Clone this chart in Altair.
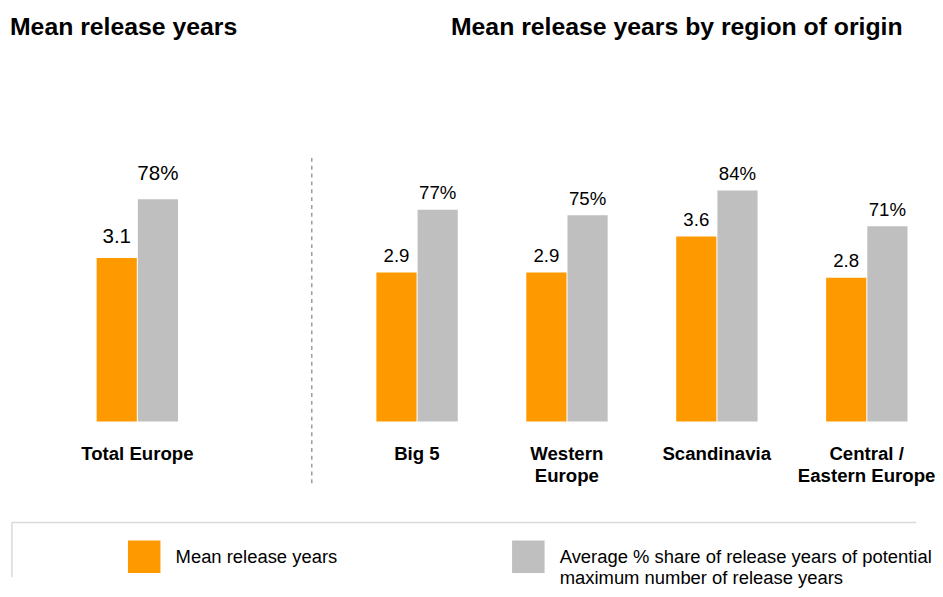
import altair as alt
import pandas as pd

FONT = "Liberation Sans"

# ---- data ----
series = [
    "Mean release years",
    "Average % share of release years of potential\nmaximum number of release years",
]
colors = ["#FF9900", "#BFBFBF"]

left_cats = ["Total Europe"]
left_mean = [3.1]
left_share = [78]

right_cats = ["Big 5", "Western\nEurope", "Scandinavia", "Central /\nEastern Europe"]
right_mean = [2.9, 2.9, 3.6, 2.8]
right_share = [77, 75, 84, 71]


def panel(cats, means, shares, width, pin, pout, align, mean_max, share_max,
          fsize, dy_mean, dy_share, title, title_dx, sep=False):
    dfm = pd.DataFrame({"cat": cats, "series": series[0], "value": means,
                        "label": [f"{v:.1f}" for v in means]})
    dfs = pd.DataFrame({"cat": cats, "series": series[1], "value": shares,
                        "label": [f"{v}%" for v in shares]})
    xaxis = alt.Axis(title=None, labelAngle=0, ticks=False, domain=False, grid=False,
                     labelFont=FONT, labelFontSize=19, labelFontWeight="bold",
                     labelColor="black", labelPadding=24, labelLimit=400,
                     labelExpr="split(datum.label, '\\n')", labelLineHeight=22)
    x = alt.X("cat:N", sort=cats,
              scale=alt.Scale(domain=cats, paddingInner=pin, paddingOuter=pout, align=align),
              axis=xaxis)
    xo = alt.XOffset("series:N", scale=alt.Scale(domain=series, paddingInner=0.025))
    color = alt.Color("series:N", scale=alt.Scale(domain=series, range=colors), legend=None)
    ym = alt.Y("value:Q", scale=alt.Scale(domain=[0, mean_max], nice=False, zero=True), axis=None)
    ys = alt.Y("value:Q", scale=alt.Scale(domain=[0, share_max], nice=False, zero=True), axis=None)

    bar_m = alt.Chart(dfm).mark_bar().encode(x=x, xOffset=xo, y=ym, color=color)
    txt_m = alt.Chart(dfm).mark_text(font=FONT, fontSize=fsize, baseline="alphabetic",
                                     dy=dy_mean, color="black").encode(
        x=x, xOffset=xo, y=ym, text="label:N")
    bar_s = alt.Chart(dfs).mark_bar().encode(x=x, xOffset=xo, y=ys, color=color)
    txt_s = alt.Chart(dfs).mark_text(font=FONT, fontSize=fsize, baseline="alphabetic",
                                     dy=dy_share, color="black").encode(
        x=x, xOffset=xo, y=ys, text="label:N")
    layers = [alt.layer(bar_m, txt_m), alt.layer(bar_s, txt_s)]
    if sep:
        rule = alt.Chart(pd.DataFrame({"a": [0]})).mark_rule(
            color="#9a9a9a", strokeWidth=1.5, strokeDash=[4, 4]).encode(
            x=alt.value(width + 10), y=alt.value(11), y2=alt.value(347))
        layers.append(rule)
    return alt.layer(*layers).resolve_scale(y="independent").properties(
        width=width, height=280,
        title=alt.Title(title, anchor="start", font=FONT, fontSize=25.3, fontWeight="bold",
                        color="black", offset=109, dx=title_dx),
    )


left = panel(left_cats, left_mean, left_share, 300, 0.235, 1.0, 0.417, 5.2, 96.3,
             21, -15, -20, "Mean release years", 2, sep=True)
right = panel(right_cats, right_mean, right_share, 600, 0.46, 0.191, 0.735, 5.34, 99.8,
              19, -11, -11, "Mean release years by region of origin", 119)

# ---- legend ----
leg_df = pd.DataFrame({"series": series})
LW, LH = 927, 56
lx = alt.X("series:N", scale=alt.Scale(type="point", domain=series, range=[139, 531], padding=0),
           axis=None)
one = pd.DataFrame({"a": [0]})
border_top = alt.Chart(one).mark_rule(color="#d9d9d9", strokeWidth=1.5).encode(
    x=alt.value(4), x2=alt.value(LW), y=alt.value(0))
border_left = alt.Chart(one).mark_rule(color="#d9d9d9", strokeWidth=1.5).encode(
    x=alt.value(4), y=alt.value(0), y2=alt.value(LH))
squares = alt.Chart(leg_df).mark_square(size=1100, opacity=1).encode(
    x=lx, y=alt.value(35),
    color=alt.Color("series:N", scale=alt.Scale(domain=series, range=colors), legend=None))
labels = alt.Chart(leg_df).mark_text(align="left", baseline="middle", dx=32, font=FONT,
                                     fontSize=18.8, lineBreak="\n", lineHeight=22,
                                     color="black").encode(
    x=lx, y=alt.value(35), text="series:N")
legend = alt.layer(border_top, border_left, squares, labels).properties(width=LW, height=LH)

chart = alt.vconcat(
    alt.hconcat(left, right, spacing=22),
    legend,
    spacing=34,
).properties(padding={"top": 1, "left": 0, "right": 0, "bottom": 0}).configure_view(stroke=None)

chart.save("out.html", embed_options={"renderer": "svg", "actions": False})
